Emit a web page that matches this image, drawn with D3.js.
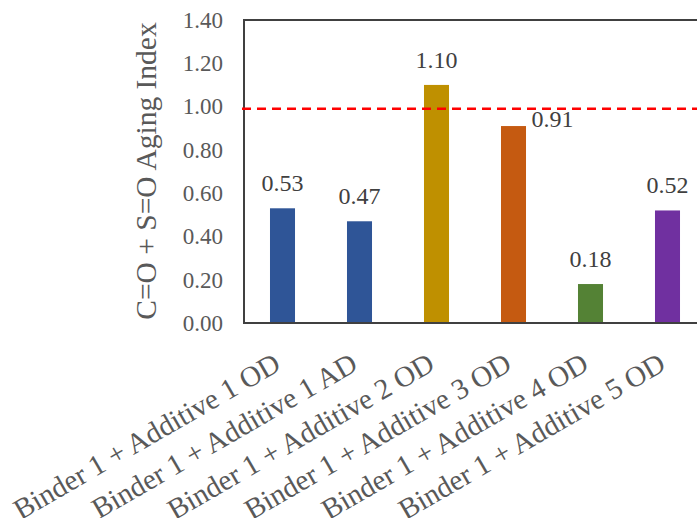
<!DOCTYPE html>
<html><head><meta charset="utf-8">
<script src="https://cdn.jsdelivr.net/npm/d3@7"></script>
<style>body{margin:0;background:#fff;}svg{display:block;}</style>
</head><body>
<svg id="c" width="697" height="518"></svg>
<script>
const categories = ["Binder 1 + Additive 1 OD","Binder 1 + Additive 1 AD","Binder 1 + Additive 2 OD","Binder 1 + Additive 3 OD","Binder 1 + Additive 4 OD","Binder 1 + Additive 5 OD"];
const values = [0.53, 0.47, 1.10, 0.91, 0.18, 0.52];
const colors = ["#2F5597","#2F5597","#BF9000","#C55A11","#548235","#7030A0"];
const yTicks = [0, 0.2, 0.4, 0.6, 0.8, 1.0, 1.2, 1.4];
const refValue = [0.99];
const yTitle = "C=O + S=O Aging Index";

const svg = d3.select("#c");
const L = 244, R = 706, T = 20, B = 323;
const x = d3.scaleBand().domain(categories).range([L, R]).paddingInner(0.675).paddingOuter(0.3375);
const y = d3.scaleLinear().domain([0, 1.4]).range([B, T]);
const font = "'Liberation Serif','Times New Roman',serif";

// bars
svg.selectAll("rect.bar").data(values).join("rect").attr("class","bar")
  .attr("x",(d,i)=>x(categories[i])).attr("width",x.bandwidth())
  .attr("y",d=>y(d)).attr("height",d=>B-y(d)).attr("fill",(d,i)=>colors[i]);

// frame
svg.append("rect").attr("x",L).attr("y",T).attr("width",R-L).attr("height",B-T)
  .attr("fill","none").attr("stroke","#404040").attr("stroke-width",2);

// reference line
svg.selectAll("line.ref").data(refValue).join("line").attr("class","ref")
  .attr("x1",L-2).attr("x2",697).attr("y1",d=>y(d)).attr("y2",d=>y(d))
  .attr("stroke","#FF0000").attr("stroke-width",2.5).attr("stroke-dasharray","9,6");

// y axis tick labels
const yAxis = d3.axisLeft(y).tickValues(yTicks).tickFormat(d3.format(".2f")).tickSize(0).tickPadding(21);
const ga = svg.append("g").attr("transform",`translate(${L},0)`).call(yAxis);
ga.select(".domain").remove();
ga.selectAll("text").attr("font-family",font).attr("font-size",23).attr("fill","#595959");

// y title
svg.append("text").attr("transform",`translate(156,171) rotate(-90)`)
  .attr("text-anchor","middle").attr("font-family",font).attr("font-size",29.5)
  .attr("fill","#595959").text(yTitle);

// x labels
svg.selectAll("text.xl").data(categories).join("text").attr("class","xl")
  .attr("transform",d=>`translate(${x(d)+x.bandwidth()/2},369) rotate(-30)`)
  .attr("text-anchor","end").attr("font-family",font).attr("font-size",29)
  .attr("fill","#595959").text(d=>d);

// data labels
svg.selectAll("text.dl").data(values).join("text").attr("class","dl")
  .attr("x",(d,i)=>x(categories[i])+x.bandwidth()/2 + (i===3?39:0))
  .attr("y",(d,i)=> i===3 ? y(d)+1 : y(d)-17)
  .attr("text-anchor","middle").attr("font-family",font).attr("font-size",24)
  .attr("fill","#404040").text(d=>d3.format(".2f")(d));
</script>
</body></html>
